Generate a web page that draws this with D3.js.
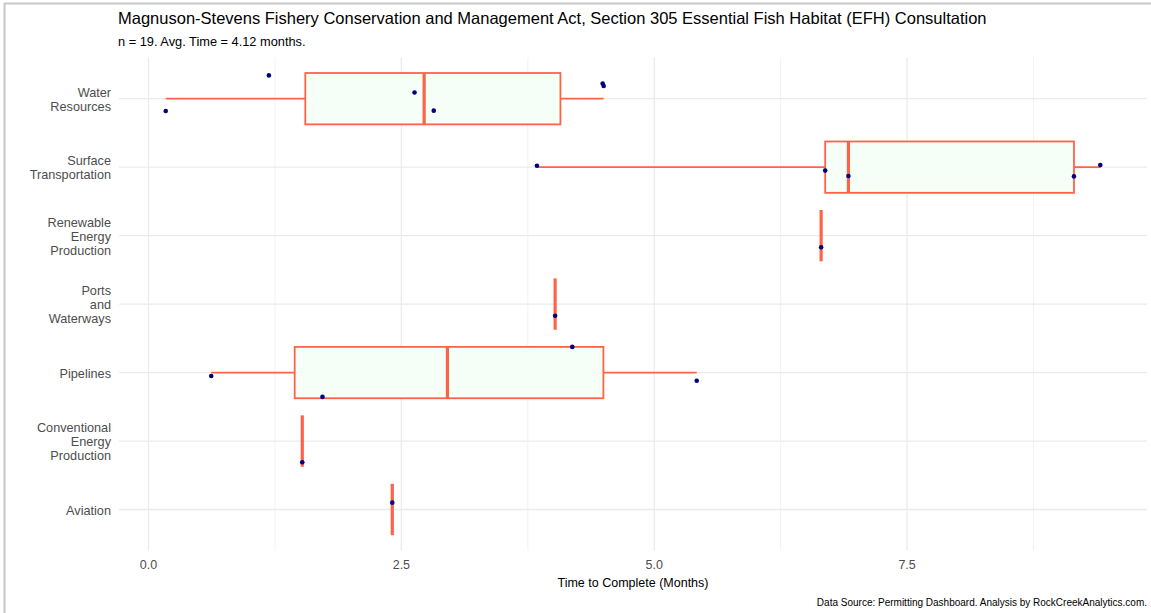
<!DOCTYPE html>
<html>
<head>
<meta charset="utf-8">
<script src="https://cdn.jsdelivr.net/npm/d3@7"></script>
<style>
  body { margin: 0; background: #fff; }
  svg { display: block; font-family: "Liberation Sans", Arial, sans-serif; }
</style>
</head>
<body>
<svg id="chart" width="1151" height="613"></svg>
<script>
// Categories, top to bottom
const categories = [
  "Water Resources",
  "Surface Transportation",
  "Renewable Energy Production",
  "Ports and Waterways",
  "Pipelines",
  "Conventional Energy Production",
  "Aviation"
];
const categoryLabels = [
  ["Water", "Resources"],
  ["Surface", "Transportation"],
  ["Renewable", "Energy", "Production"],
  ["Ports", "and", "Waterways"],
  ["Pipelines"],
  ["Conventional", "Energy", "Production"],
  ["Aviation"]
];
// Months to complete for each project, per category
const waterResources = [0.17, 1.19, 2.63, 2.82, 4.49, 4.50];
const surfaceTransportation = [3.84, 6.69, 6.92, 9.15, 9.41];
const renewableEnergy = [6.65];
const portsWaterways = [4.02];
const pipelines = [0.62, 1.72, 4.19, 5.42];
const conventionalEnergy = [1.52];
const aviation = [2.41];
// vertical jitter of each point (fraction of category spacing, + = down)
const waterJitter = [0.18, -0.34, -0.09, 0.175, -0.22, -0.185];
const surfaceJitter = [-0.02, 0.05, 0.13, 0.135, -0.03];
const renewableJitter = [0.17];
const portsJitter = [0.17];
const pipelinesJitter = [0.05, 0.355, -0.375, 0.12];
const conventionalJitter = [0.31];
const aviationJitter = [-0.10];

const xTicks = [0, 2.5, 5, 7.5];
const xTickLabels = ["0.0", "2.5", "5.0", "7.5"];
const xMinor = [1.25, 3.75, 6.25, 8.75];

const title = "Magnuson-Stevens Fishery Conservation and Management Act, Section 305 Essential Fish Habitat (EFH) Consultation";
const subtitle = "n = 19. Avg. Time = 4.12 months.";
const xTitle = "Time to Complete (Months)";
const caption = "Data Source: Permitting Dashboard. Analysis by RockCreekAnalytics.com.";

const values = [waterResources, surfaceTransportation, renewableEnergy, portsWaterways, pipelines, conventionalEnergy, aviation];
const jitters = [waterJitter, surfaceJitter, renewableJitter, portsJitter, pipelinesJitter, conventionalJitter, aviationJitter];

const svg = d3.select("#chart");
const W = 1151, H = 613;
const panel = { left: 119, right: 1147, top: 57.6, bottom: 550.6 };

// frame lines (screenshot border)
svg.append("line").attr("x1", 4).attr("x2", W).attr("y1", 3.5).attr("y2", 3.5)
  .attr("stroke", "#c8c8c8").attr("stroke-width", 2);
svg.append("line").attr("x1", 4.5).attr("x2", 4.5).attr("y1", 3).attr("y2", H)
  .attr("stroke", "#c8c8c8").attr("stroke-width", 2);

// x scale with ggplot-like 5% expansion
const allVals = values.flat();
const [mn, mx] = d3.extent(allVals);
const pad = (mx - mn) * 0.05;
const x = d3.scaleLinear().domain([mn - pad, mx + pad]).range([panel.left, panel.right]);

// y: discrete with 0.6 expansion
const n = categories.length;
const yLin = d3.scaleLinear().domain([0.4, n + 0.6]).range([panel.top, panel.bottom]);
const yPos = i => yLin(i + 1);
const step = yLin(2) - yLin(1);

const g = svg.append("g");

// gridlines
g.selectAll(".minor").data(xMinor).enter().append("line")
  .attr("x1", d => x(d)).attr("x2", d => x(d))
  .attr("y1", panel.top).attr("y2", panel.bottom)
  .attr("stroke", "#f2f2f2").attr("stroke-width", 1);
g.selectAll(".major").data(xTicks).enter().append("line")
  .attr("x1", d => x(d)).attr("x2", d => x(d))
  .attr("y1", panel.top).attr("y2", panel.bottom)
  .attr("stroke", "#ebebeb").attr("stroke-width", 1.3);
g.selectAll(".hgrid").data(categories).enter().append("line")
  .attr("x1", panel.left).attr("x2", panel.right)
  .attr("y1", (d, i) => yPos(i)).attr("y2", (d, i) => yPos(i))
  .attr("stroke", "#ebebeb").attr("stroke-width", 1.3);

// boxplots
const stroke = "#FF6347";
const fill = "#F5FFF8";
const boxH = step * 0.75;
values.forEach((vals, i) => {
  const s = vals.slice().sort(d3.ascending);
  const q1 = d3.quantile(s, 0.25), med = d3.quantile(s, 0.5), q3 = d3.quantile(s, 0.75);
  const iqr = q3 - q1;
  const lo = d3.min(s.filter(v => v >= q1 - 1.5 * iqr));
  const hi = d3.max(s.filter(v => v <= q3 + 1.5 * iqr));
  const cy = yPos(i);
  // whiskers
  g.append("line").attr("x1", x(lo)).attr("x2", x(q1)).attr("y1", cy).attr("y2", cy)
    .attr("stroke", stroke).attr("stroke-width", 1.8);
  g.append("line").attr("x1", x(q3)).attr("x2", x(hi)).attr("y1", cy).attr("y2", cy)
    .attr("stroke", stroke).attr("stroke-width", 1.8);
  // box
  g.append("rect").attr("x", x(q1)).attr("y", cy - boxH / 2)
    .attr("width", Math.max(0, x(q3) - x(q1))).attr("height", boxH)
    .attr("fill", fill).attr("stroke", stroke).attr("stroke-width", 1.8);
  // median
  g.append("line").attr("x1", x(med)).attr("x2", x(med))
    .attr("y1", cy - boxH / 2).attr("y2", cy + boxH / 2)
    .attr("stroke", stroke).attr("stroke-width", 3.2);
});

// points
values.forEach((vals, i) => {
  g.selectAll(null).data(vals.map((v, j) => ({ v, j: jitters[i][j] }))).enter().append("circle")
    .attr("cx", d => x(d.v)).attr("cy", d => yPos(i) + d.j * step)
    .attr("r", 2.3).attr("fill", "#000080");
});

// y axis labels
const lh = 14;
categoryLabels.forEach((lines, i) => {
  const t = svg.append("text").attr("text-anchor", "end").attr("fill", "#4d4d4d")
    .attr("font-size", 12.7);
  const start = yPos(i) - (lines.length - 1) * lh / 2;
  lines.forEach((ln, k) => {
    t.append("tspan").attr("x", 111).attr("y", start + k * lh).attr("dy", "0.4em").text(ln);
  });
});

// x axis tick labels
svg.selectAll(".xt").data(xTicks).enter().append("text")
  .attr("x", d => x(d)).attr("y", 564.5).attr("dy", "0.35em")
  .attr("text-anchor", "middle").attr("fill", "#4d4d4d").attr("font-size", 12.5)
  .text((d, i) => xTickLabels[i]);

// x title
svg.append("text").attr("x", (panel.left + panel.right) / 2).attr("y", 582.5).attr("dy", "0.35em")
  .attr("text-anchor", "middle").attr("fill", "#000").attr("font-size", 12.5).text(xTitle);

// caption
svg.append("text").attr("x", 1147).attr("y", 602).attr("dy", "0.35em")
  .attr("text-anchor", "end").attr("fill", "#000").attr("font-size", 10).text(caption);

// title, subtitle
svg.append("text").attr("x", 118).attr("y", 18.5).attr("dy", "0.35em")
  .attr("fill", "#000").attr("font-size", 16.5).text(title);
svg.append("text").attr("x", 118).attr("y", 42).attr("dy", "0.35em")
  .attr("fill", "#000").attr("font-size", 12.8).text(subtitle);
</script>
</body>
</html>
